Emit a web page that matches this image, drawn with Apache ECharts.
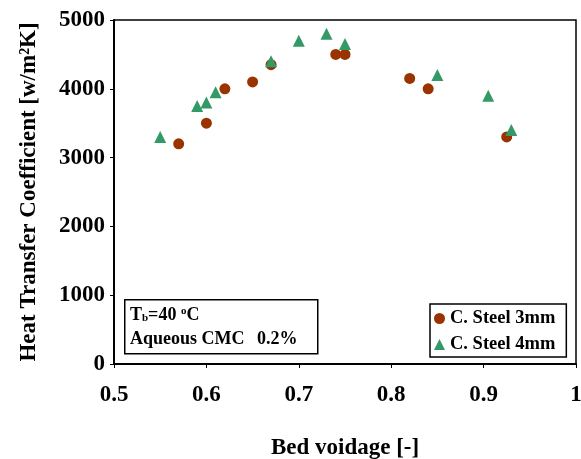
<!DOCTYPE html>
<html><head><meta charset="utf-8">
<script src="https://cdn.jsdelivr.net/npm/echarts@6/dist/echarts.min.js"></script>
<style>html,body{margin:0;padding:0;background:#fff}#c{width:581px;height:459px}</style>
</head><body><div id="c"></div>
<script>
const steel3mmX = [0.570, 0.600, 0.620, 0.650, 0.670, 0.740, 0.750, 0.820, 0.840, 0.925];
const steel3mmY = [3200, 3500, 4000, 4100, 4350, 4500, 4500, 4150, 4000, 3300];
const steel4mmX = [0.550, 0.590, 0.600, 0.610, 0.670, 0.700, 0.730, 0.750, 0.850, 0.905, 0.930];
const steel4mmY = [3300, 3750, 3800, 3950, 4400, 4700, 4800, 4650, 4200, 3900, 3400];
const seriesNames = ['C. Steel 3mm', 'C. Steel 4mm'];
const xTicks = {min: 0.5, max: 1, interval: 0.1};
const yTicks = {min: 0, max: 5000, interval: 1000};

const FONT = '"Liberation Serif", "Times New Roman", serif';
const chart = echarts.init(document.getElementById('c'));
const zip = (xs, ys) => xs.map((x, i) => [x, ys[i]]);
chart.setOption({
  animation: false,
  grid: {left: 114, right: 5, top: 20, bottom: 95, containLabel: false, outerBoundsMode: 'none',
         show: true, borderColor: '#000', borderWidth: 1.5},
  xAxis: {
    type: 'value', min: xTicks.min, max: xTicks.max, interval: xTicks.interval,
    name: 'Bed voidage [-]', nameLocation: 'middle', nameGap: 73,
    nameTextStyle: {fontFamily: FONT, fontWeight: 'bold', fontSize: 23, color: '#000'},
    axisLine: {lineStyle: {color: '#000', width: 2}},
    axisTick: {show: true, inside: false, length: 4, lineStyle: {color: '#000', width: 1}},
    splitLine: {show: false},
    axisLabel: {margin: 20, fontFamily: FONT, fontWeight: 'bold', fontSize: 23, color: '#000',
      formatter: v => (Math.abs(v - 1) < 1e-9 ? '1' : v.toFixed(1))}
  },
  yAxis: {
    type: 'value', min: yTicks.min, max: yTicks.max, interval: yTicks.interval,
    name: 'Heat Transfer Coefficient [w/m\u00B2K]', nameLocation: 'middle', nameGap: 73,
    nameTextStyle: {fontFamily: FONT, fontWeight: 'bold', fontSize: 23, color: '#000'},
    axisLine: {show: true, lineStyle: {color: '#000', width: 2}},
    axisTick: {show: true, inside: false, length: 4, lineStyle: {color: '#000', width: 1}},
    splitLine: {show: false},
    axisLabel: {margin: 9, fontFamily: FONT, fontWeight: 'bold', fontSize: 23, color: '#000',
      formatter: v => String(v)}
  },
  series: [
    {name: seriesNames[0], type: 'scatter', symbol: 'circle', symbolSize: 11,
     itemStyle: {color: '#993300', opacity: 1}, data: zip(steel3mmX, steel3mmY)},
    {name: seriesNames[1], type: 'scatter', symbol: 'triangle', symbolSize: 12,
     itemStyle: {color: '#339966', opacity: 1}, data: zip(steel4mmX, steel4mmY)}
  ],
  legend: {
    show: true, orient: 'vertical', left: 430, top: 304,
    padding: [5, 11, 3, 4], itemGap: 7, itemWidth: 11, itemHeight: 11,
    borderColor: '#000', borderWidth: 1.5, backgroundColor: '#fff',
    textStyle: {fontFamily: FONT, fontWeight: 'bold', fontSize: 18.5, color: '#000'},
    data: [{name: seriesNames[0], icon: 'circle'}, {name: seriesNames[1], icon: 'triangle'}]
  },
  graphic: [
    {type: 'rect', left: 124, top: 299, shape: {width: 193, height: 54},
     style: {fill: '#fff', stroke: '#000', lineWidth: 1.5}, z: 10},
    {type: 'text', left: 130, top: 306, z: 11,
     style: {rich: {
       n: {fontFamily: FONT, fontWeight: 'bold', fontSize: 18, fill: '#000'},
       s: {fontFamily: FONT, fontWeight: 'bold', fontSize: 11, fill: '#000', padding: [7, 0, 0, 0]},
       p: {fontFamily: FONT, fontWeight: 'bold', fontSize: 11, fill: '#000', padding: [0, 0, 7, 0]}
     }, text: '{n|T}{s|b}{n|=40 }{p|o}{n|C}'}},
    {type: 'text', left: 130, top: 330, z: 11,
     style: {text: 'Aqueous CMC \u2009 0.2%', fontFamily: FONT, fontWeight: 'bold', fontSize: 18, fill: '#000'}}
  ]
});
</script></body></html>
